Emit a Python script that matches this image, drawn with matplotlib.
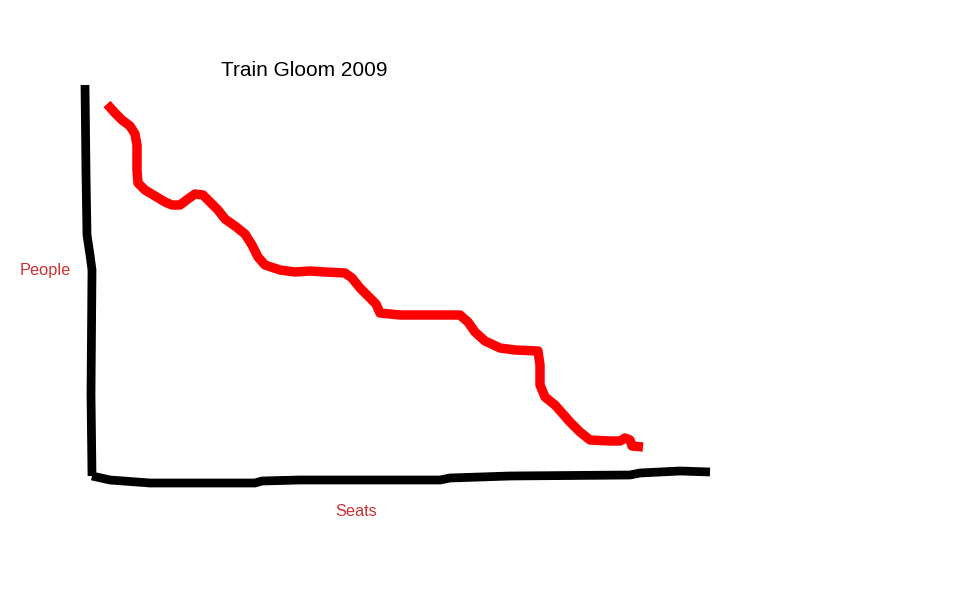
import matplotlib
matplotlib.use("Agg")
import matplotlib.pyplot as plt

# Hand-drawn chart: values (seats on x, people on y, y up)
title = "Train Gloom 2009"
x_label = "Seats"
y_label = "People"

seats = [107, 115, 122, 130, 135, 137, 137, 138, 145, 155, 165, 172, 180, 188, 195,
         203, 210, 218, 225, 235, 245, 252, 258, 265, 280, 295, 310, 325, 345, 352,
         360, 370, 376, 380, 400, 460, 468, 475, 485, 500, 515, 538, 540, 540, 545,
         555, 570, 580, 590, 610, 620, 625, 630, 632, 643]
people = [490, 481, 474, 468, 460, 449, 424, 411, 404, 398, 392, 389, 389, 395, 400,
          399, 392, 384, 375, 368, 360, 349, 337, 329, 324, 322, 323, 322, 321, 316,
          306, 296, 290, 281, 279, 279, 272, 262, 253, 246, 244, 243, 229, 209, 197,
          189, 172, 162, 154, 153, 153, 156, 154, 148, 147]

# hand-drawn axis strokes
yaxis_x = [85, 86, 87, 90, 92, 91, 92]
yaxis_y = [509, 420, 359, 339, 324, 200, 118]
xaxis_x = [92, 110, 150, 255, 262, 300, 440, 450, 510, 630, 640, 680, 710]
xaxis_y = [118, 114, 111, 111, 113, 114, 114, 116, 118, 119, 121, 123, 122]

W, H = 962, 594
fig = plt.figure(figsize=(W / 100, H / 100), dpi=100)
ax = fig.add_axes([0, 0, 1, 1])
ax.set_xlim(0, W)
ax.set_ylim(0, H)
ax.axis("off")

ax.plot(yaxis_x, yaxis_y, color="black", lw=6.3, solid_capstyle="butt", solid_joinstyle="round")
ax.plot(xaxis_x, xaxis_y, color="black", lw=6.3, solid_capstyle="butt", solid_joinstyle="round")
ax.plot(seats, people, color="#ff0000", lw=6.8, solid_capstyle="butt", solid_joinstyle="round")

font = ["Liberation Sans", "DejaVu Sans"]
ax.text(304, H - 70, title, ha="center", va="center", fontsize=15, color="black", family=font)
ax.text(45, H - 271, y_label, ha="center", va="center", fontsize=11.8, color="#c83232", family=font)
ax.text(356, H - 511, x_label, ha="center", va="center", fontsize=11.8, color="#c83232", family=font)

fig.savefig("out.png", dpi=100, facecolor="white")
